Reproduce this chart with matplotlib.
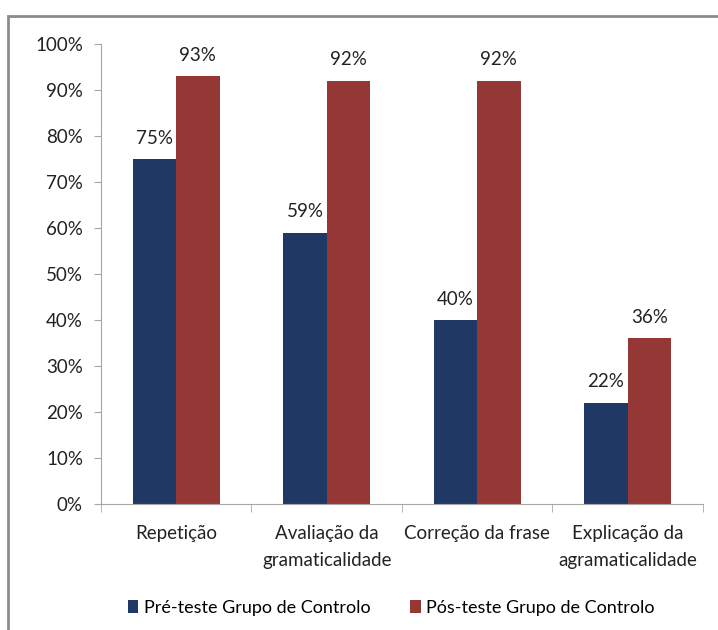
import matplotlib.pyplot as plt
import matplotlib.patches as mpatches
import numpy as np

plt.rcParams['font.family'] = ['Lato', 'DejaVu Sans']

CATEGORIES = ['Repetição', 'Avaliação da\ngramaticalidade', 'Correção da frase', 'Explicação da\nagramaticalidade']
PRE = [75, 59, 40, 22]
POS = [93, 92, 92, 36]
SERIES_NAMES = ['Pré-teste Grupo de Controlo', 'Pós-teste Grupo de Controlo']
COLORS = ['#1F3864', '#953735']
FS = 13.5


def main():
    fig = plt.figure(figsize=(7.18, 6.3), dpi=100)
    ax = fig.add_axes([0.1407, 0.2, 0.8383, 0.730])

    # outer grey frame (right and bottom edges are cut off in the original)
    frame = mpatches.Rectangle((8 / 718, -0.1), 1.2, 0.1 + (630 - 16) / 630,
                               transform=fig.transFigure, fill=False,
                               edgecolor='#8c8c8c', linewidth=2)
    fig.patches.append(frame)

    x = np.arange(len(CATEGORIES))
    w = 0.288
    b1 = ax.bar(x - w / 2, np.array(PRE) / 100, w, color=COLORS[0], label=SERIES_NAMES[0])
    b2 = ax.bar(x + w / 2, np.array(POS) / 100, w, color=COLORS[1], label=SERIES_NAMES[1])

    for bars, vals in [(b1, PRE), (b2, POS)]:
        for rect, v in zip(bars, vals):
            ax.annotate('%d%%' % v, (rect.get_x() + rect.get_width() / 2, rect.get_height()),
                        xytext=(0, 9), textcoords='offset points', ha='center', va='bottom',
                        fontsize=FS, color='#222222')

    ax.set_xlim(-0.5, len(CATEGORIES) - 0.5)
    ax.set_ylim(0, 1)
    ax.set_yticks(np.arange(0, 1.01, 0.1))
    ax.set_yticklabels(['%d%%' % round(t * 100) for t in np.arange(0, 1.01, 0.1)])
    ax.set_xticks(x)
    ax.set_xticklabels(CATEGORIES, linespacing=1.75)
    ax.set_xticks(np.arange(-0.5, len(CATEGORIES)), minor=True)
    ax.tick_params(axis='x', which='major', length=0, pad=15, labelsize=FS, colors='#222222')
    ax.tick_params(axis='x', which='minor', length=6, color='#a6a6a6')
    ax.tick_params(axis='y', length=5, color='#a6a6a6', labelsize=FS, labelcolor='#222222', pad=8)

    for s in ['top', 'right']:
        ax.spines[s].set_visible(False)
    ax.spines['left'].set_color('#a6a6a6')
    ax.spines['bottom'].set_color('#a6a6a6')

    fig.legend(handles=[b1, b2], loc='center', bbox_to_anchor=(0.545, 0.035), ncol=2,
               frameon=False, fontsize=13, handlelength=0.6, handleheight=0.75,
               handletextpad=0.3, columnspacing=2.2)

    fig.savefig('out.png', dpi=100)


if __name__ == '__main__':
    main()
